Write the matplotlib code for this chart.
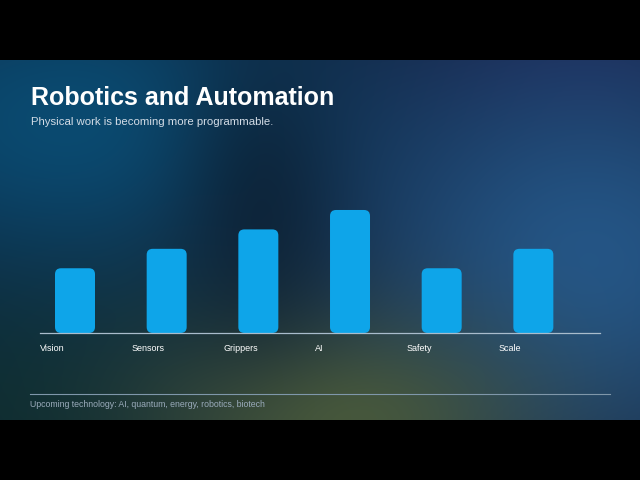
import numpy as np
import matplotlib
matplotlib.use("Agg")
import matplotlib.pyplot as plt
from matplotlib.patches import FancyBboxPatch
from matplotlib.colors import to_rgb

plt.rcParams['font.family'] = ['Liberation Sans', 'DejaVu Sans']

# data
categories = ["Vision", "Sensors", "Grippers", "AI", "Safety", "Scale"]
values = [50, 65, 80, 95, 50, 65]

title = "Robotics and Automation"
subtitle = "Physical work is becoming more programmable."
footer = "Upcoming technology: AI, quantum, energy, robotics, biotech"

BAR_COLOR = "#0ea5e9"
W, H = 640, 480
TOP, BOT = 60, 420   # slide area inside the black letterbox


def make_background():
    h = BOT - TOP
    yy, xx = np.mgrid[0:h, 0:W].astype(float)
    yy += TOP
    img = np.ones((h, W, 3)) * np.array(to_rgb("#111a33"))

    def blob(cx, cy, sx, sy, color, a):
        nonlocal img
        w = a * np.exp(-(((xx - cx) / sx) ** 2 + ((yy - cy) / sy) ** 2) / 2)
        img = img * (1 - w[..., None]) + np.array(to_rgb(color)) * w[..., None]

    blob(20, 390, 170, 110, "#0d2c2e", 0.95)
    blob(150, 330, 120, 70, "#0e2630", 0.5)
    blob(70, 120, 210, 120, "#0a4a70", 1.0)
    blob(580, 60, 110, 60, "#1d1e4e", 0.7)
    blob(590, 260, 180, 160, "#25588a", 0.95)
    blob(340, 420, 140, 75, "#4a5b3c", 0.95)
    blob(260, 200, 60, 110, "#0a1522", 0.55)
    return np.clip(img, 0, 1)


fig = plt.figure(figsize=(6.4, 4.8), dpi=100, facecolor="black")

# full-figure axes in pixel coordinates for background and slide text
bg = fig.add_axes([0, 0, 1, 1])
bg.set_xlim(0, W)
bg.set_ylim(H, 0)
bg.axis("off")
bg.add_patch(plt.Rectangle((0, 0), W, H, color="black", zorder=0))
bg.imshow(make_background(), extent=(0, W, BOT, TOP), aspect="auto", zorder=1)

bg.text(31, 105, title, color="white", fontsize=18, fontweight="bold",
        va="baseline", ha="left", zorder=3)
bg.text(31, 125, subtitle, color="#d3dce6", fontsize=8.2,
        va="baseline", ha="left", zorder=3)
bg.plot([30, 610], [393.5, 393.5], color="#7f97aa", lw=0.8, zorder=3)
bg.text(30, 407, footer, color="#9aabbb", fontsize=6.3,
        va="baseline", ha="left", zorder=3)

# chart axes: x 40..600 px, baseline at 333 px, 100 units = 129.5 px
slot_px = 91.67
unit_px = 1.295
left_px, right_px, base_px = 40, 600, 333
top_px = base_px - 100 * unit_px
ax = fig.add_axes([left_px / W, (H - base_px) / H,
                   (right_px - left_px) / W, (base_px - top_px) / H])
ax.set_xlim(0, (right_px - left_px) / slot_px)
ax.set_ylim(0, 100)
ax.patch.set_alpha(0)
for s in ax.spines.values():
    s.set_visible(False)
ax.set_xticks([])
ax.set_yticks([])

x = np.arange(len(categories))
bars = ax.bar(x + 15 / slot_px, values, width=40 / slot_px, align="edge",
              color=BAR_COLOR)
r = 6 / slot_px
for b in bars:
    b.set_visible(False)
    ax.add_patch(FancyBboxPatch((b.get_x(), b.get_y()), b.get_width(), b.get_height(),
                                boxstyle=f"round,pad=0,rounding_size={r}",
                                mutation_aspect=slot_px / unit_px,
                                facecolor=BAR_COLOR, edgecolor="none", zorder=2))

ax.axhline(0, color="#a9bccc", lw=0.9, zorder=3, clip_on=False)

for xi, lab in zip(x, categories):
    ax.text(xi, -18 / unit_px, lab, color="white", fontsize=6.5, ha="left",
            va="baseline", clip_on=False)

fig.savefig("out.png", dpi=100, facecolor="black")
